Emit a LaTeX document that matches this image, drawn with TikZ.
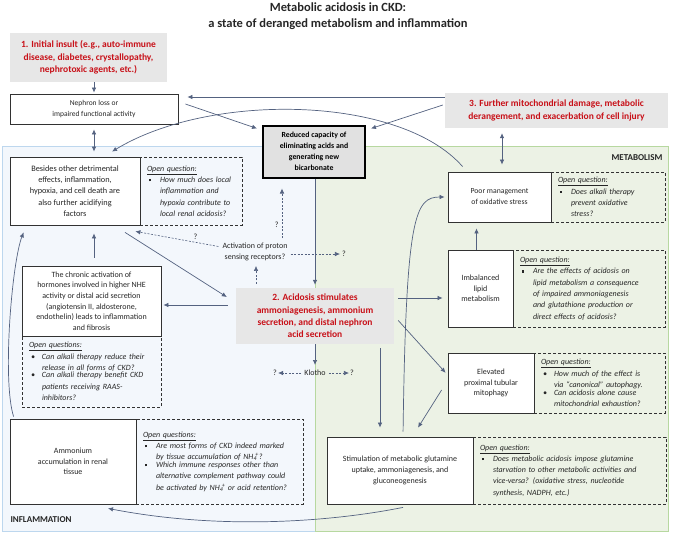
\documentclass[tikz,border=0pt]{standalone}
\usepackage{fontspec}
\setmainfont{Carlito}
\usepackage{tikz}
\usetikzlibrary{arrows.meta, positioning, calc}
\definecolor{ckdred}{RGB}{200, 16, 24}
\definecolor{linkblue}{RGB}{84, 98, 128}
\definecolor{boxline}{RGB}{50, 50, 50}
\definecolor{headgray}{RGB}{231, 231, 231}
\definecolor{redgray}{RGB}{225, 225, 225}
\definecolor{inflfill}{RGB}{243, 247, 252}
\definecolor{inflline}{RGB}{189, 215, 238}
\definecolor{metafill}{RGB}{236, 242, 229}
\definecolor{metaline}{RGB}{183, 216, 160}
\definecolor{textgray}{RGB}{38, 38, 38}

\newcommand{\qhead}[1]{\hspace*{3pt}\underline{#1}\par}
\newcommand{\sqbul}{\rule[0.3ex]{2.4pt}{2.4pt}}
\newcommand{\rdbul}{\textbullet}
\newcommand{\qitem}[2]{\par\noindent\makebox[16pt][l]{\hspace{5pt}#1}\parbox[t]{\dimexpr\linewidth-16pt\relax}{\raggedright #2}}
\newcommand{\nhfour}{NH\textsubscript{4}\kern-0.2em\textsuperscript{+}}

\begin{document}
\begin{tikzpicture}[x=1pt, y=-1pt,
  sbox/.style={draw=boxline, fill=white, line width=0.8pt, align=center, inner sep=2pt, text=textgray, font=\fontsize{8}{10.7}\selectfont},
  hbox/.style={fill=headgray, text=ckdred, align=center, inner sep=2pt, font=\fontsize{9.5}{12.3}\selectfont\bfseries},
  qbox/.style={draw=boxline, line width=0.8pt, dash pattern=on 3pt off 2pt, align=left, inner xsep=4pt, inner ysep=2pt, text=textgray, font=\fontsize{8}{11.3}\selectfont\itshape},
  link/.style={-{Latex[length=5pt, width=4.5pt]}, draw=linkblue, line width=0.7pt},
  dlink/.style={{Latex[length=5pt, width=4.5pt]}-{Latex[length=5pt, width=4.5pt]}, draw=linkblue, line width=0.7pt},
  qlink/.style={link, dash pattern=on 2pt off 1.5pt, line width=0.6pt},
  lbl/.style={inner sep=1pt, text=textgray, font=\fontsize{8}{10.5}\selectfont}
]
  \useasboundingbox (0,0) rectangle (676,533);

  % the two areas
  \draw[fill=inflfill, draw=inflline, line width=0.8pt] (2,146) rectangle (315,531);
  \draw[fill=metafill, draw=metaline, line width=0.8pt] (315,146) rectangle (668,531);
  \node[anchor=east, font=\fontsize{9}{11}\selectfont\bfseries, text=textgray] (metab) at (666,158) {METABOLISM};
  \node[anchor=west, font=\fontsize{9}{11}\selectfont\bfseries, text=textgray] (inflam) at (7,520) {INFLAMMATION};

  \node[align=center, font=\fontsize{12.5}{16}\selectfont\bfseries, text=textgray] (title) at (338,16) {Metabolic acidosis in CKD:\\a state of deranged metabolism and inflammation};

  % headline boxes
  \node[hbox, minimum width=157pt, minimum height=49pt] (ins) at (88.5,57.5) {1. Initial insult (e.g., auto-immune\\disease, diabetes, crystallopathy,\\nephrotoxic agents, etc.)};
  \node[hbox, minimum width=223pt, minimum height=35pt] (furth) at (556.5,110.5) {3. Further mitochondrial damage, metabolic\\derangement, and exacerbation of cell injury};
  \node[hbox, minimum width=158pt, minimum height=56pt] (acid) at (315,316) {2. Acidosis stimulates\\ammoniagenesis, ammonium\\secretion, and distal nephron\\acid secretion};

  \node[sbox, minimum width=168pt, minimum height=30pt, font=\fontsize{7.5}{10.7}\selectfont] (neph) at (94,109) {Nephron loss or\\impaired functional activity};
  \node[sbox, fill=redgray, line width=2pt, draw=black, text=black, minimum width=102pt, minimum height=52pt, font=\fontsize{7.8}{11}\selectfont\bfseries] (red) at (314,151.5) {Reduced capacity of\\eliminating acids and\\generating new\\bicarbonate};

  % inflammation side
  \node[qbox, text width=94pt, minimum height=68pt] (besq) at (191,191) {\qhead{Open question:}\qitem{\sqbul}{How much does local\\inflammation and\\hypoxia contribute to\\local renal acidosis?}};
  \node[sbox, minimum width=130pt, minimum height=68pt, font=\fontsize{8.3}{11.4}\selectfont] (bes) at (75,191) {Besides other detrimental\\effects, inflammation,\\hypoxia, and cell death are\\also further acidifying\\factors};

  \node[qbox, text width=131pt, minimum height=71pt] (chrq) at (91.5,371.5) {\qhead{Open questions:}\qitem{\rdbul}{Can alkali therapy reduce their\\release in all forms of CKD?}\qitem{\rdbul}{Can alkali therapy benefit CKD\\patients receiving RAAS-\\inhibitors?}};
  \node[sbox, minimum width=139pt, minimum height=70pt] (chr) at (91.5,301) {The chronic activation of\\hormones involved in higher NHE\\activity or distal acid secretion\\(angiotensin II, aldosterone,\\endothelin) leads to inflammation\\and fibrosis};

  \node[qbox, text width=159pt, minimum height=85pt] (ammq) at (219.5,461.5) {\qhead{Open questions:}\qitem{\sqbul}{Are most forms of CKD indeed marked\\by tissue accumulation of \nhfour?}\qitem{\sqbul}{Which immune responses other than\\alternative complement pathway could\\be activated by \nhfour{} or acid retention?}};
  \node[sbox, minimum width=126pt, minimum height=85pt] (amm) at (73,461.5) {Ammonium\\accumulation in renal\\tissue};

  \node[lbl, align=center] (act) at (255,252) {Activation of proton\\sensing receptors?};
  \node[lbl] (actq) at (344,254) {?};
  \node[lbl] (klo) at (315,373) {Klotho};
  \node[lbl] (kloa) at (275,373) {?};
  \node[lbl] (klob) at (352,373) {?};

  % metabolism side
  \node[qbox, text width=106pt, minimum height=50pt] (poorq) at (608,197) {\qhead{Open question:}\qitem{\sqbul}{Does alkali therapy\\prevent oxidative\\stress?}};
  \node[sbox, minimum width=103pt, minimum height=50pt, font=\fontsize{7.7}{11}\selectfont] (poor) at (499.5,197) {Poor management\\of oxidative stress};

  \node[qbox, text width=144pt, minimum height=77pt] (lipq) at (589,288.5) {\qhead{Open question:}\qitem{\sqbul}{Are the effects of acidosis on\\lipid metabolism a consequence\\of impaired ammoniagenesis\\and glutathione production or\\direct effects of acidosis?}};
  \node[sbox, minimum width=65pt, minimum height=77pt] (lip) at (480.5,288.5) {Imbalanced\\lipid\\metabolism};

  \node[qbox, text width=123pt, minimum height=60pt] (mitoq) at (599.5,383) {\qhead{Open question:}\qitem{\rdbul}{How much of the effect is\\via “canonical” autophagy.}\qitem{\rdbul}{Can acidosis alone cause\\mitochondrial exhaustion?}};
  \node[sbox, minimum width=86pt, minimum height=60pt] (mito) at (491,383) {Elevated\\proximal tubular\\mitophagy};

  \node[qbox, text width=185pt, minimum height=67pt] (glutq) at (569.5,470.5) {\qhead{Open question:}\qitem{\sqbul}{Does metabolic acidosis impose glutamine\\starvation to other metabolic activities and\\vice-versa? (oxidative stress, nucleotide\\synthesis, NADPH, etc.)}};
  \node[sbox, minimum width=146pt, minimum height=67pt] (glut) at (400,470.5) {Stimulation of metabolic glutamine\\uptake, ammoniagenesis, and\\gluconeogenesis};

  % connectors
  \draw[link, shorten >=1pt] (neph.north |- ins.south) -- (neph.north);
  \draw[link, shorten >=9pt] ([yshift=13.5pt]furth.west) -- ([yshift=13.5pt]furth.west -| neph.east);
  \draw[link] ([xshift=7pt, yshift=5pt]neph.east) -- ([xshift=-5pt, yshift=-4pt]red.north west);
  \draw[link] ([xshift=-2pt, yshift=5.5pt]furth.west) -- ([xshift=5pt, yshift=-4pt]red.north east);
  \draw[link] ([xshift=15pt, yshift=5pt]poor.north west) .. controls (400,95) and (210,92) .. ([xshift=37pt, yshift=5pt]bes.north);
  \draw[dlink, shorten <=5pt, shorten >=5pt] (neph.south) -- (neph.south |- bes.north);
  \draw[dlink, shorten <=5pt, shorten >=7pt] ([xshift=2.5pt]poor.north |- furth.south) -- ([xshift=2.5pt]poor.north);
  \draw[link, shorten >=3pt] (red.south -| acid.north) -- (acid.north);

  \draw[link, shorten <=8pt, shorten >=8pt] ([xshift=2.5pt]chr.north) -- ([xshift=2.5pt]chr.north |- bes.south);
  \draw[link] ([xshift=50pt, yshift=-7pt]bes.south) -- ([xshift=-9pt, yshift=19pt]acid.west);
  \draw[link, shorten >=2pt] ([xshift=-8pt, yshift=11pt]acid.west) -- ([yshift=11pt]acid.west -| chr.east);
  \draw[link] ([xshift=4pt, yshift=2pt]amm.north west) .. controls (2,380) and (12,262) .. ([xshift=14pt, yshift=-7pt]bes.south west);
  \draw[link] ([xshift=3pt, yshift=-3pt]glut.south) .. controls (330,522) and (220,530) .. ([xshift=35pt, yshift=-4pt]amm.south);

  \draw[qlink, shorten <=4pt, shorten >=4pt] ([xshift=-59pt]acid.north) -- ([xshift=-59pt]acid.north |- act.south);
  \draw[qlink, shorten <=3pt] ([yshift=5pt]act.west) -- ([xshift=-5pt, yshift=-6pt]bes.south east) node[pos=0.3, above=1pt, lbl] {?};
  \draw[qlink, shorten <=4pt, shorten >=10pt] ([xshift=27pt]act.north) -- ([xshift=27pt]act.north |- red.south) node[pos=0.27, left=2pt, lbl] {?};
  \draw[qlink, shorten <=2pt, shorten >=1pt] (act.east |- actq.west) -- (actq.west);
  \draw[link, shorten >=4pt] (acid.south) -- (klo.north);
  \draw[qlink, shorten <=2pt] (klo.west) -- (kloa.east);
  \draw[qlink, shorten <=2pt] (klo.east) -- (klob.west);

  \draw[link, shorten <=4pt, shorten >=5pt] ([yshift=18pt]acid.east) -- ([yshift=18pt]acid.east -| lip.west);
  \draw[link, shorten <=6pt, shorten >=3pt] (acid.east) -- ([yshift=8pt]mito.west);
  \draw[link] ([xshift=-6pt, yshift=-7pt]mito.west) -- ([xshift=18pt, yshift=9pt]glut.north);
  \draw[link, shorten <=4pt, shorten >=9pt] ([xshift=65pt]acid.south) -- ([xshift=-20pt]glut.north);
  \draw[link, shorten <=5pt, shorten >=3pt] ([xshift=3pt]glut.north) .. controls (406,215) and (415,197) .. (poor.west);
  \draw[link, shorten >=6pt] ([xshift=-4pt]lip.north) -- ([xshift=-4pt]lip.north |- poor.south);
\end{tikzpicture}
\end{document}
